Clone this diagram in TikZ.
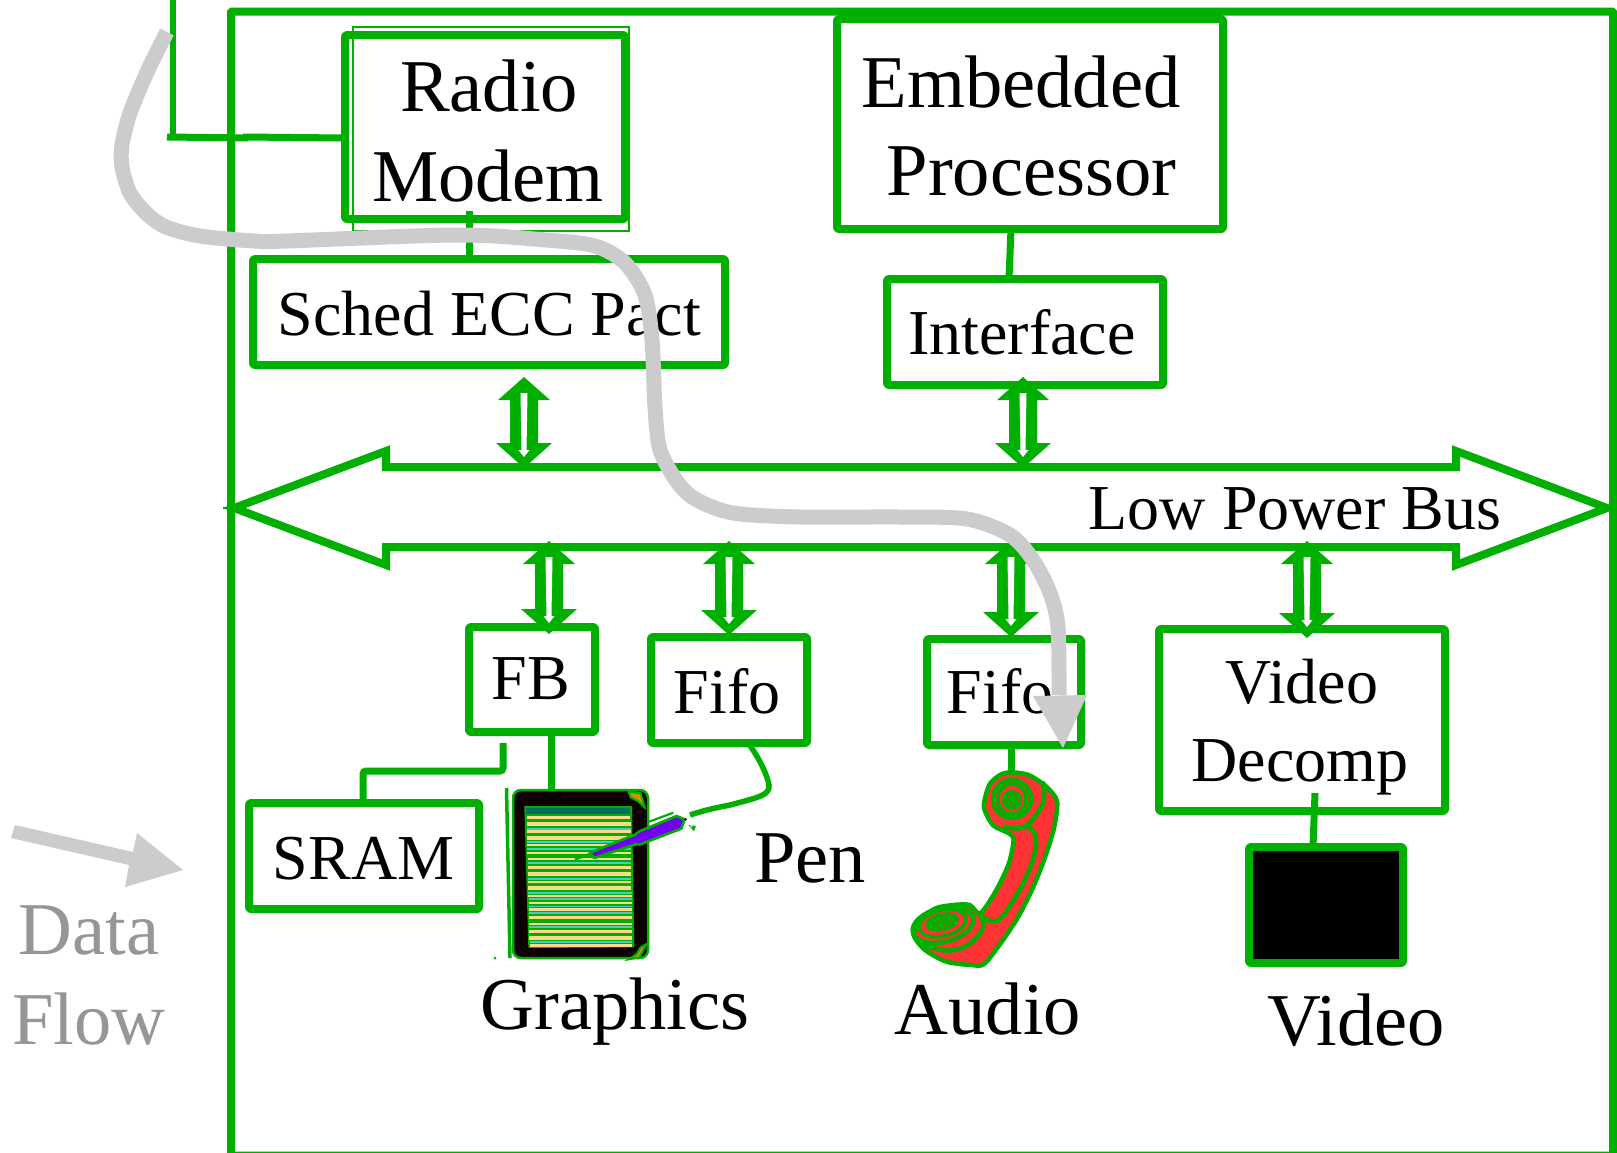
\documentclass[tikz,border=0pt]{standalone}
\usepackage{fontspec}
\setmainfont{Liberation Serif}
\definecolor{grn}{RGB}{0,175,0}
\definecolor{flowgrey}{RGB}{204,204,204}
\definecolor{labelgrey}{RGB}{150,150,150}
\definecolor{phonered}{RGB}{255,51,51}
\definecolor{tan1}{RGB}{255,217,135}
\definecolor{cyan1}{RGB}{70,205,200}
\definecolor{teal1}{RGB}{0,110,100}
\definecolor{purp}{RGB}{112,0,240}
\definecolor{orng}{RGB}{215,145,0}
\tikzset{
  boxnode/.style={draw=grn,line width=8pt,rounded corners=2pt,line join=round,inner sep=0pt,outer sep=0pt},
  wire/.style={draw=grn,line width=7pt},
  big/.style={anchor=base,inner sep=0pt,font=\fontsize{74.5}{80}\selectfont},
  mid/.style={anchor=base,inner sep=0pt,font=\fontsize{64}{70}\selectfont},
  phoneline/.style={draw=grn,line width=4.5pt,line join=round},
  flow/.style={draw=flowgrey,line width=15pt}
}
% name, left, top, right, bottom
\newcommand{\mybox}[6][]{%
  \pgfmathsetmacro{\mycx}{(#3+#5)/2}\pgfmathsetmacro{\mycy}{(#4+#6)/2}%
  \pgfmathsetmacro{\myw}{#5-#3}\pgfmathsetmacro{\myh}{#6-#4}%
  \node[boxnode,minimum width=\myw pt,minimum height=\myh pt,#1] (#2) at (\mycx,\mycy) {};}
% x, top apex, bottom apex
\newcommand{\dbl}[3]{%
  \fill[grn] (#1,#2) -- (#1+26,#2+23) -- (#1+14,#2+23) -- (#1+14,#3-25) -- (#1+28,#3-25)
    -- (#1,#3) -- (#1-28,#3-25) -- (#1-14,#3-25) -- (#1-14,#2+23) -- (#1-26,#2+23) -- cycle;
  \fill[white] (#1-3.5,#2+16) -- (#1+3.5,#2+16) -- (#1+2.5,#3-18) -- (#1+5.5,#3-18) -- (#1,#3-11) -- (#1-5.5,#3-18) -- (#1-2.5,#3-18) -- cycle;}
\begin{document}
\begin{tikzpicture}[x=1pt,y=-1pt]
\useasboundingbox (0,0) rectangle (1617,1152);
\clip (0,0) rectangle (1617,1152);
\fill[white] (0,0) rectangle (1617,1152);

% outer frame and antenna feed
\node[draw=grn,line width=8pt,rounded corners=1pt,inner sep=0pt,minimum width=1382pt,minimum height=1144pt] (frame) at (922,583.5) {};
\coordinate (feedtop) at (173,-5);
\coordinate (feedcorner) at (173,137);
\coordinate (feedleft) at (167,137);
\coordinate (feedmid) at (248,138);
\coordinate (feedmidb) at (243,137);

% bus
\draw[draw=grn,line width=8pt,miter limit=10,fill=white] (234,508) -- (386,451) -- (386,467) -- (1456,467) -- (1456,451) -- (1607,508)
  -- (1456,565) -- (1456,547) -- (386,547) -- (386,565) -- cycle;
\draw[grn,line width=2pt] (223,508) -- (240,508);

% boxes
\draw[grn,line width=2pt] (353,27) rectangle (629,231);
\mybox{radio}{345}{35}{625}{219}
\mybox{embedded}{837}{19}{1223}{229}
\mybox{sched}{253}{259}{725}{365}
\mybox{iface}{887}{279}{1163}{385}
\mybox{fb}{469}{627}{595}{732}
\mybox{fifoa}{651}{637}{807}{743}
\mybox{fifob}{927}{639}{1081}{745}
\mybox{vdec}{1159}{629}{1445}{811}
\mybox{sram}{249}{803}{479}{909}
\mybox[fill=black]{screen}{1249}{847}{1403}{963}

% double arrows
\dbl{524}{377}{468}
\dbl{1023}{377}{468}
\dbl{549}{541}{634}
\dbl{729}{541}{635}
\dbl{1011}{541}{637}
\dbl{1307}{541}{638}

% connectors
\draw[wire,line width=6pt] (feedtop) -- (feedcorner);
\draw[wire] (feedleft) -- (feedmid);
\draw[wire] (feedmidb) -- (radio.west |- 0,138);
\coordinate (radiostub) at (469,211);
\draw[wire] (radiostub) -- (469,255);
\draw[wire] ([xshift=-19pt]embedded.south) -- ([xshift=-16pt]iface.north);
\coordinate (vstub) at (1315,793);
\draw[wire] (vstub) -- (1313,847);
\coordinate (fbstub) at (503,743);
\draw[wire,rounded corners=3pt] (fbstub) -- (503,771) -- (363,771) -- ([xshift=-1pt]sram.north);
\draw[wire] ([xshift=19pt]fb.south) -- (551,792);
\draw[wire] (1011,745) -- (1011,775);

% tablet
\draw[grn,line width=3.5pt] (506.5,788) -- (510,958);
\fill[grn] (495,958) circle (1.5);
\draw[draw=grn,fill=black!95!red,line width=2.5pt,rounded corners=8pt] (513,790) rectangle (648,958);
\begin{scope}[shift={(480pt,-740pt)},x=0.3333pt,y=-0.3333pt]
  \fill[grn] (133,198) -- (456,198) -- (463,622) -- (145,624) -- cycle;
  \fill[teal1] (138,203) rectangle (451,222);
  \foreach \yy/\cc/\tt in {232/tan1/3.4,252/tan1/3.4,266/cyan1/2,274/tan1/2.4,294/tan1/3.4,306/cyan1/1.5,316/tan1/2,326/cyan1/2.2,338/tan1/2,358/tan1/2.2,368/cyan1/2.2,383/tan1/3.4,402/tan1/3.4,416/cyan1/2,426/tan1/2.4,444/tan1/3.4,458/cyan1/2,467/tan1/2.2,477/cyan1/2,490/tan1/2.2,500/cyan1/1.6,508/tan1/2.4,520/cyan1/2,533/tan1/3.4,552/tan1/2.4,562/cyan1/2,575/tan1/3.4,594/tan1/3.4,607/cyan1/2,616/tan1/2.4}{
    \pgfmathsetmacro{\xa}{139+(\yy-200)*0.024}
    \pgfmathsetmacro{\xb}{451+(\yy-200)*0.014}
    \draw[\cc,line width=\tt pt] (\xa,\yy) -- (\xb,\yy);
  }
  % corner accents
  \draw[grn,line width=2pt,fill=orng] (446,155) -- (482,160) -- (494,202) -- (472,182) -- (452,172) -- cycle;
  \draw[grn,line width=2pt,fill=orng] (446,658) -- (478,652) -- (500,612) -- (482,622) -- (470,642) -- cycle;
  % pen
  \draw[grn,line width=2.5pt] (285,358) -- (470,292);
  \draw[grn,line width=2.6pt,line join=round,fill=purp] (330,338) -- (342,354) -- (470,312) -- (478,314) -- (604,266) -- (614,238) -- (590,228) -- (478,274) -- (465,284) -- cycle;
  \draw[grn,line width=2.2pt] (505,246) -- (580,218);
  \draw[white,line width=0.8pt] (510,250) -- (578,226);
  \fill[black] (617,238) circle (4);
  \fill[grn] (625,255) -- (648,258) -- (642,274) -- cycle;
  \fill[white] (634,259) circle (3);
\end{scope}

% pen wire
\draw[draw=grn,line width=5.5pt] ([xshift=19pt]fifoa.south) .. controls (755,752) and (766,770) .. (769,785) .. controls (770,795) and (760,797) .. (730,805) .. controls (715,808) and (705,810) .. (690,815);

% phone
\begin{scope}[shift={(900pt,-600pt)},x=0.3571pt,y=-0.3333pt]
  \draw[phoneline,fill=phonered] plot[smooth cycle,tension=0.45] coordinates {(310,517) (360,525) (410,560) (440,605) (430,690) (400,790) (365,880) (320,970) (240,1088) (200,1095) (130,1085) (70,1050) (38,1005) (55,960) (100,925) (150,915) (195,915) (225,940) (270,870) (305,790) (318,720) (305,700) (260,675) (235,620) (250,555) (280,525)};
  \draw[phoneline] plot[smooth,tension=0.6] coordinates {(360,680) (380,710) (375,770) (340,860) (290,945) (260,965) (232,950)};
  \draw[phoneline] plot[smooth,tension=0.6] coordinates {(55,1030) (130,1052) (190,1035) (232,985) (225,945)};
  \draw[phoneline] plot[smooth,tension=0.6] coordinates {(400,545) (400,610) (350,680) (290,680)};
\end{scope}
\draw[phoneline] (1012,799) circle [radius=19];
\draw[phoneline,line width=3.5pt] (1012,799) ellipse [x radius=14,y radius=15];
\fill[grn] (1012,800) circle [radius=10];
\foreach \a/\b in {1008/796,1014/794,1018/800,1011/802,1006/803,1015/806}{\fill[phonered] (\a,\b) circle [radius=1];}
\begin{scope}[rotate around={14:(943,925)}]
  \draw[phoneline] (943,925) ellipse [x radius=31,y radius=17];
  \draw[phoneline,line width=3.5pt] (943,923) ellipse [x radius=24,y radius=13];
  \fill[grn] (943,922) ellipse [x radius=17,y radius=9];
\end{scope}
\foreach \a/\b in {934/923,940/919,946/917,952/915,938/927,944/924,950/921,943/930,949/927}{\fill[phonered] (\a,\b) circle [radius=1];}

% texts
\node[big] (t1) at (489,111) {Radio};
\node[big] (t2) at (488,201) {Modem};
\node[big] (t3) at (1021,107) {Embedded};
\node[big] (t4) at (1031.5,195) {Processor};
\node[mid] (t5) at (489.5,335) {Sched ECC Pact};
\node[mid] (t6) at (1022,354) {Interface};
\node[mid] (t7) at (1295,529) {Low Power Bus};
\node[mid] (t8) at (531,699) {FB};
\node[mid] (t9) at (727,713) {Fifo};
\node[mid] (t10) at (1000,713) {Fifo};
\node[mid] (t11) at (1302,703) {Video};
\node[mid] (t12) at (1300,781) {Decomp};
\node[mid] (t13) at (363.5,879) {SRAM};
\node[big] (t14) at (810,882) {Pen};
\node[big] (t15) at (615,1029) {Graphics};
\node[big] (t16) at (988,1034) {Audio};
\node[big] (t17) at (1356,1045) {Video};
\node[big,text=labelgrey] (t18) at (89,954) {Data};
\node[big,text=labelgrey] (t19) at (89,1044) {Flow};

% data flow
\draw[flow] plot[smooth,tension=0.5] coordinates {(167,32) (148,70) (130,113) (122,145) (122,167) (130,193) (146,213) (166,227) (200,236) (254,241) (286,241) (457,235) (546,240) (595,246) (625,263) (645,295) (652,340) (655,407) (660,450) (678,483) (697,500) (733,513) (800,517) (900,517) (967,519) (1010,535) (1033,560) (1050,593) (1058,627) (1059,695)};
\fill[flowgrey] (1033,696) -- (1087,695) -- (1063,748) -- cycle;
\fill[flowgrey] (15,825) -- (133,852) -- (137,833) -- (183,870) -- (125,887) -- (129,865) -- (11,838) -- cycle;
\end{tikzpicture}
\end{document}
